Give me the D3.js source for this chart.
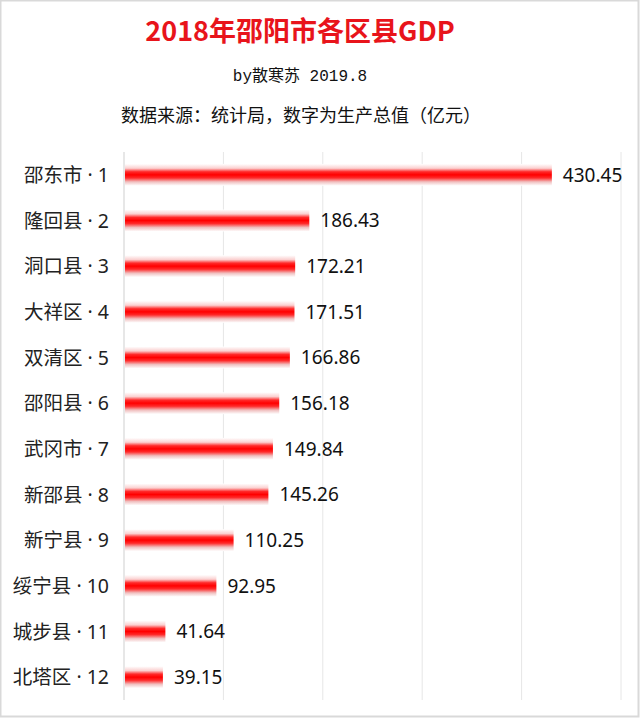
<!DOCTYPE html>
<html><head><meta charset="utf-8">
<script src="https://cdn.jsdelivr.net/npm/d3@7"></script>
<style>body{margin:0;background:#fff}svg{display:block}</style>
</head><body><div id="chart"></div>
<script>
const categories = ["邵东市 · 1","隆回县 · 2","洞口县 · 3","大祥区 · 4","双清区 · 5","邵阳县 · 6","武冈市 · 7","新邵县 · 8","新宁县 · 9","绥宁县 · 10","城步县 · 11","北塔区 · 12"];
const values = [430.45,186.43,172.21,171.51,166.86,156.18,149.84,145.26,110.25,92.95,41.64,39.15];
const xTicks = [0,100,200,300,400,500];
const title = "2018年邵阳市各区县GDP";
const subtitle = "by散寒苏 2019.8";
const source = "数据来源：统计局，数字为生产总值（亿元）";

const W = 640, H = 719;
const font = "'Noto Sans CJK SC','Noto Sans',sans-serif";
const latinFirst = "'Noto Sans','Noto Sans CJK SC',sans-serif";
const svg = d3.select("#chart").append("svg").attr("width", W).attr("height", H);

svg.append("rect").attr("x",0.5).attr("y",0.5).attr("width",W-2).attr("height",H-3)
  .attr("fill","#fff").attr("stroke","#d9d9d9").attr("stroke-width",2);

const defs = svg.append("defs");
const g = defs.append("linearGradient").attr("id","barGrad").attr("x1",0).attr("y1",0).attr("x2",0).attr("y2",1);
[[0,"#ffffff"],[0.2,"#fbd0d0"],[0.36,"#ff2a2a"],[0.5,"#ff0000"],[0.64,"#ff2a2a"],[0.82,"#f0c0c0"],[1,"#ffffff"]]
  .forEach(([o,c]) => g.append("stop").attr("offset",o).attr("stop-color",c));

const x = d3.scaleLinear().domain([0,500]).range([124,621]);
const y = d3.scaleBand().domain(categories).range([152,700]).paddingInner(0.52).paddingOuter(0.26);

// grid
svg.append("g").selectAll("line").data(xTicks).join("line")
  .attr("x1",d=>x(d)).attr("x2",d=>x(d)).attr("y1",152).attr("y2",700)
  .attr("stroke",d=>d===0?"#cfcfcf":"#e6e6e6").attr("stroke-width",1);

// bars
svg.append("g").selectAll("rect").data(values).join("rect")
  .attr("x",x(0)+1).attr("y",(d,i)=>y(categories[i]))
  .attr("width",d=>x(d)-x(0)-1).attr("height",y.bandwidth())
  .attr("fill","url(#barGrad)");

// category labels
svg.append("g").selectAll("text").data(categories).join("text")
  .attr("x",109).attr("y",d=>y(d)+y.bandwidth()/2).attr("dy","0.36em")
  .attr("text-anchor","end").attr("font-family",latinFirst).attr("font-size",19.5).attr("fill","#222")
  .text(d=>d);

// value labels
svg.append("g").selectAll("text").data(values).join("text")
  .attr("x",d=>x(d)+11).attr("y",(d,i)=>y(categories[i])+y.bandwidth()/2).attr("dy","0.36em")
  .attr("font-family",latinFirst).attr("font-size",19).attr("fill","#111")
  .text(d=>d.toFixed(2));

// titles
svg.append("text").attr("x",300).attr("y",41).attr("text-anchor","middle")
  .attr("font-family",font).attr("font-weight","bold").attr("font-size",27).attr("fill","#e8141b")
  .text(title);
svg.append("text").attr("x",300).attr("y",81).attr("text-anchor","middle")
  .attr("font-family","'Liberation Mono','Noto Sans CJK SC',monospace").attr("font-size",16).attr("fill","#111").text(subtitle);
svg.append("text").attr("x",301).attr("y",122).attr("text-anchor","middle")
  .attr("font-family",font).attr("font-size",18).attr("fill","#111").text(source);
</script></body></html>
